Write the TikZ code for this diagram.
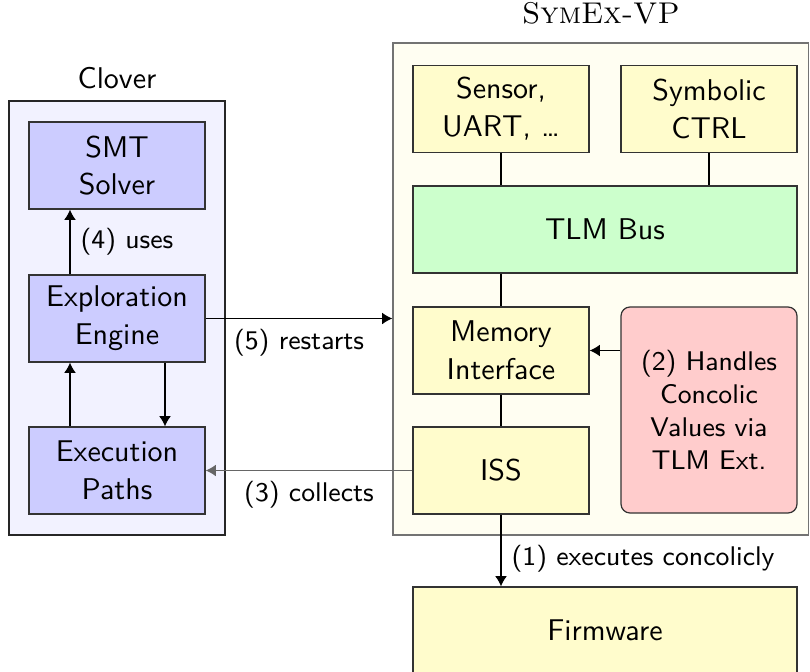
\documentclass[tikz,border=0pt]{standalone}
\usepackage{fontspec}
\usetikzlibrary{arrows.meta}
\begin{document}
\begin{tikzpicture}[x=0.33333pt, y=-0.33333pt,
  font=\sffamily,
  box/.style={draw=black!80, line width=0.4pt, minimum width=58.667pt, minimum height=29pt, inner sep=0pt, align=center, font=\sffamily\fontsize{10}{12.6}\selectfont},
  cbox/.style={box, fill=blue!20},
  ybox/.style={box, fill=yellow!20},
  container/.style={draw, line width=0.4pt, inner sep=0pt},
  arr/.style={-{Latex[length=3.4pt,width=3.9pt]}, line width=0.4pt},
  lbl/.style={font=\sffamily\small},
]
\useasboundingbox (0,0) rectangle (810,672);
% containers
\node[container, draw=black!85, fill=blue!5, minimum width=72pt, minimum height=144.667pt] (clover) at (117,318) {};
\node[container, draw=black!55, fill=yellow!5, minimum width=138.5pt, minimum height=164pt] (vp) at (600.75,289) {};
\node[anchor=south, inner sep=0pt] (clovert) at (117,89) {Clover};
\node[anchor=south, inner sep=0pt, font=\rmfamily] (vpt) at (601,25) {\textsc{SymEx-VP}};
% Clover boxes
\node[cbox] (smt) at (117,165.5) {SMT\\Solver};
\node[cbox] (explore) at (117,318.5) {Exploration\\Engine};
\node[cbox] (paths) at (117,470.5) {Execution\\Paths};
% VP boxes
\node[ybox] (sensor) at (501,109) {Sensor,\\UART, …};
\node[ybox] (symctrl) at (709,109) {Symbolic\\CTRL};
\node[box, fill=green!20, minimum width=128pt] (bus) at (605,229.5) {TLM Bus};
\node[ybox] (mem) at (501,350.5) {Memory\\Interface};
\node[ybox] (iss) at (501,470.5) {ISS};
\node[box, fill=red!20, rounded corners=3pt, minimum height=68.667pt, font=\sffamily\small] (ext) at (709,410) {(2) Handles\\Concolic\\Values via\\TLM Ext.};
\node[ybox, minimum width=128pt] (fw) at (605,630.5) {Firmware};
% connectors
\draw[arr] ([xshift=-15.667pt]explore.north) -- ([xshift=-15.667pt]smt.south) node[midway, right, lbl] {(4) uses};
\draw[arr] ([xshift=-15.667pt]paths.north) -- ([xshift=-15.667pt]explore.south);
\draw[arr] ([xshift=16pt]explore.south) -- ([xshift=16pt]paths.north);
\draw[arr] (explore.east) -- (explore.east -| vp.west) node[midway, below, lbl] {(5) restarts};
\draw[arr, draw=black!60] (iss.west) -- (paths.east) node[midway, below, lbl, text=black] {(3) collects};
\draw[arr] (ext.west |- mem.east) -- (mem.east);
\draw (sensor.south) -- (sensor.south |- bus.north);
\draw (symctrl.south) -- (symctrl.south |- bus.north);
\draw (mem.north |- bus.south) -- (mem.north);
\draw (mem.south) -- (iss.north);
\draw[arr] (iss.south) -- (iss.south |- fw.north) node[pos=0.62, right, lbl] {(1) executes concolicly};
\end{tikzpicture}
\end{document}
